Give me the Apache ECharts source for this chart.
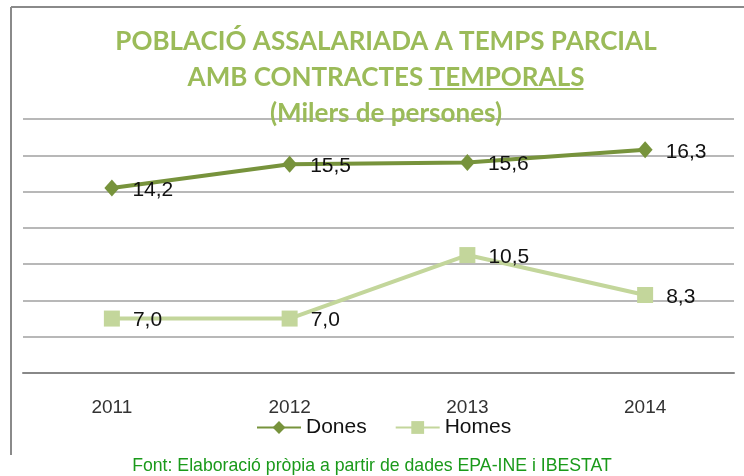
<!DOCTYPE html>
<html>
<head>
<meta charset="utf-8">
<title>Població assalariada a temps parcial</title>
<script src="https://cdn.jsdelivr.net/npm/echarts@6/dist/echarts.min.js"></script>
<style>
  html, body { margin: 0; padding: 0; background: #fff; }
  #chart { width: 744px; height: 476px; }
</style>
</head>
<body>
<div id="chart"></div>
<script>
// dades
var years = ['2011', '2012', '2013', '2014'];
var dones = [14.2, 15.5, 15.6, 16.3];
var homes = [7.0, 7.0, 10.5, 8.3];
var titleLines = ['POBLACIÓ ASSALARIADA A TEMPS PARCIAL', 'AMB CONTRACTES TEMPORALS', '(Milers de persones)'];
var underlined = 'TEMPORALS';
var sourceText = 'Font: Elaboració pròpia a partir de dades EPA-INE i IBESTAT';

var titleFont = 'bold 26px Lato';
var titleCenter = 381;

var myChart = echarts.init(document.getElementById('chart'));

function fmt(p) {
    return p.value.toFixed(1).replace('.', ',');
}

// posició del subratllat: es mesura el text de la segona línia
var ctx = document.createElement('canvas').getContext('2d');
ctx.font = titleFont;
var line2W = ctx.measureText(titleLines[1]).width;
var uStart = titleCenter - line2W / 2 + ctx.measureText(titleLines[1].replace(underlined, '')).width + 4;
var uW = ctx.measureText(underlined).width;

var labelStyle = {
    show: true,
    position: 'right',
    distance: 13,
    offset: [0, 2],
    formatter: fmt,
    fontFamily: 'Liberation Sans',
    fontSize: 21,
    color: '#111'
};

myChart.setOption({
    animation: false,
    title: {
        text: titleLines.join('\n'),
        left: titleCenter,
        top: 19,
        textAlign: 'center',
        textStyle: {
            fontFamily: 'Lato',
            fontWeight: 'bold',
            fontSize: 26,
            lineHeight: 36,
            color: '#9BBB59'
        }
    },
    graphic: [
        // marc del gràfic
        { type: 'line', shape: { x1: 11, y1: 7, x2: 744, y2: 7 }, style: { stroke: '#8a8a8a', lineWidth: 2 } },
        { type: 'line', shape: { x1: 11, y1: 7, x2: 11, y2: 455 }, style: { stroke: '#8a8a8a', lineWidth: 2 } },
        // subratllat de TEMPORALS
        { type: 'rect', shape: { x: uStart, y: 88, width: uW, height: 2 }, style: { fill: '#9BBB59' } },
        {
            type: 'text', left: 'center', top: 457,
            style: { text: sourceText, fontFamily: 'Liberation Sans', fontSize: 17.7, fill: '#1a9a1a' }
        }
    ],
    legend: {
        left: 251,
        top: 412,
        itemWidth: 44,
        itemHeight: 16,
        itemGap: 28,
        textStyle: { fontFamily: 'Liberation Sans', fontSize: 21, color: '#111' },
        data: ['Dones', 'Homes']
    },
    grid: { left: 23, right: 10, top: 119, bottom: 103 },
    xAxis: {
        type: 'category',
        data: years,
        axisLine: { lineStyle: { color: '#888', width: 2 } },
        axisTick: { show: false },
        axisLabel: { margin: 25, fontFamily: 'Liberation Sans', fontSize: 19, color: '#333' }
    },
    yAxis: {
        type: 'value',
        min: 4,
        max: 18,
        interval: 2,
        axisLabel: { show: false },
        axisLine: { show: false },
        axisTick: { show: false },
        splitLine: { lineStyle: { color: '#a0a0a0', width: 1.5 } }
    },
    series: [
        {
            name: 'Dones',
            type: 'line',
            data: dones,
            symbol: 'diamond',
            symbolSize: [15, 17],
            lineStyle: { color: '#77933C', width: 4 },
            itemStyle: { color: '#77933C' },
            label: labelStyle
        },
        {
            name: 'Homes',
            type: 'line',
            data: homes,
            symbol: 'rect',
            symbolSize: 16,
            lineStyle: { color: '#C3D69B', width: 4 },
            itemStyle: { color: '#C3D69B' },
            label: labelStyle
        }
    ]
});
</script>
</body>
</html>
